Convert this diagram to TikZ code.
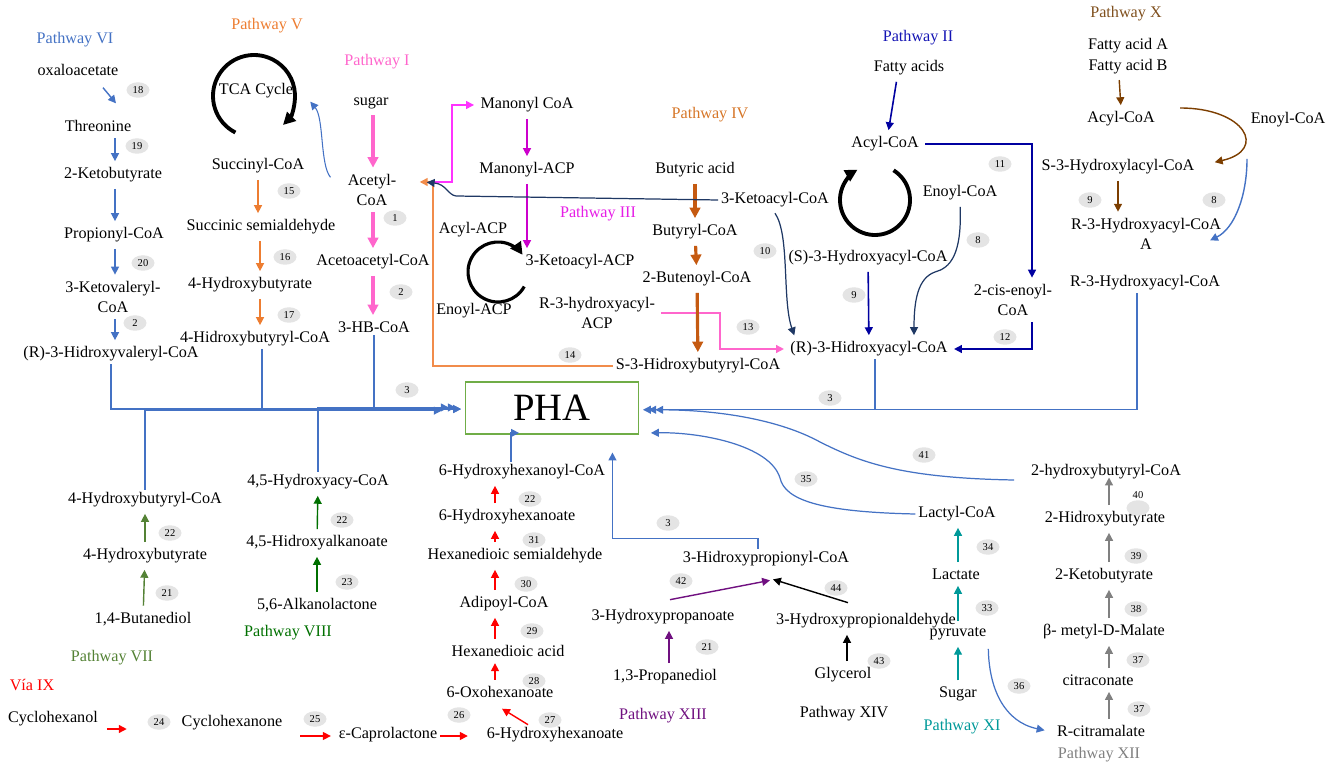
\documentclass[tikz,border=0pt]{standalone}
\usepackage{fontspec}
\setmainfont{Liberation Serif}
\usetikzlibrary{positioning}
\usetikzlibrary{arrows.meta}
\usetikzlibrary{shapes.geometric}
\usetikzlibrary{calc}
\definecolor{pwvi}{RGB}{68,114,196}
\definecolor{pwv}{RGB}{237,125,49}
\definecolor{pwi}{RGB}{255,102,204}
\definecolor{pwii}{RGB}{0,0,160}
\definecolor{pwiil}{RGB}{20,20,180}
\definecolor{pwnavy}{RGB}{31,56,100}
\definecolor{pwiii}{RGB}{204,0,204}
\definecolor{pwiiil}{RGB}{230,30,230}
\definecolor{pwmag}{RGB}{255,51,255}
\definecolor{pwiv}{RGB}{197,90,17}
\definecolor{pwivl}{RGB}{214,118,40}
\definecolor{pworange}{RGB}{241,140,75}
\definecolor{pwvii}{RGB}{84,130,53}
\definecolor{pwviii}{RGB}{0,112,0}
\definecolor{pwx}{RGB}{124,62,0}
\definecolor{pwxl}{RGB}{128,80,30}
\definecolor{pwxi}{RGB}{0,153,153}
\definecolor{pwxii}{RGB}{128,128,128}
\definecolor{pwxiii}{RGB}{112,16,128}
\definecolor{phagreen}{RGB}{112,173,71}
\definecolor{badgegray}{RGB}{228,228,228}
\tikzset{
    cmpd/.style = {inner sep=1.5pt, align=center, font=\fontsize{9.2}{11.6}\selectfont},
    pwy/.style = {inner sep=1pt, font=\fontsize{9.2}{11}\selectfont},
    badge/.style = {ellipse, fill=badgegray, minimum width=0.46cm, minimum height=0.31cm, inner sep=0pt, font=\fontsize{6}{7}\selectfont},
    phabox/.style = {rectangle, draw=phagreen, line width=1.1pt, minimum width=3.46cm, minimum height=1.04cm, font=\fontsize{22}{26}\selectfont},
    arrowtip/.style = {-{Triangle[length=4.5pt,width=4.5pt]}, shorten <=2pt, shorten >=2pt},
    bigtip/.style = {-{Triangle[length=6pt,width=6pt]}, shorten <=2pt, shorten >=2pt},
    noshort/.style = {shorten <=0pt, shorten >=0pt},
    cyclearw/.style = {-{Triangle[length=7pt,width=7pt]}, line width=2.2pt, black},
    edgevi/.style = {arrowtip, line width=0.8pt, pwvi},
    edgev/.style = {arrowtip, line width=0.8pt, pwv},
    edgei/.style = {bigtip, line width=1.8pt, pwi},
    edgeii/.style = {arrowtip, line width=0.9pt, pwii},
    edgenavy/.style = {arrowtip, line width=0.7pt, pwnavy},
    edgeiii/.style = {arrowtip, line width=0.8pt, pwiii},
    edgemag/.style = {arrowtip, line width=0.8pt, pwmag},
    edgepink/.style = {arrowtip, line width=0.8pt, pwi},
    edgeiv/.style = {bigtip, line width=1.8pt, pwiv},
    edgeorange/.style = {arrowtip, line width=0.8pt, pworange},
    edgevii/.style = {arrowtip, line width=0.8pt, pwvii},
    edgeviii/.style = {arrowtip, line width=0.8pt, pwviii},
    edgeix/.style = {arrowtip, line width=0.8pt, red},
    edgex/.style = {arrowtip, line width=0.8pt, pwx},
    edgexi/.style = {arrowtip, line width=0.8pt, pwxi},
    edgexii/.style = {arrowtip, line width=0.8pt, pwxii},
    edgexiii/.style = {arrowtip, line width=0.8pt, pwxiii},
    edgexiv/.style = {arrowtip, line width=0.8pt, black},
    edgepha/.style = {arrowtip, line width=0.7pt, pwvi, shorten <=0pt}
}

\begin{document}
\begin{tikzpicture}[x=0.02cm, y=-0.02cm]
\useasboundingbox (0,0) rectangle (1331,766);
% guides
\coordinate (colvi) at (115,0);
\coordinate (colv) at (260,0);
\coordinate (coli) at (373,0);
\coordinate (colix) at (495,0);
\coordinate (colxi) at (958,0);
\coordinate (colxii) at (1109,0);
\coordinate (jct) at (433,182);
\coordinate (tcac) at (254,96);
\coordinate (acpc) at (498,272);
\coordinate (fac) at (875,200);
%
% pathway labels
\node[pwy, pwvi] at (75,40) (lblvi) {Pathway VI};
\node[pwy, pwv] at (267,26) (lblv) {Pathway V};
\node[pwy, pwi] at (377,62) (lbli) {Pathway I};
\node[pwy, pwiil] at (918,38) (lblii) {Pathway II};
\node[pwy, pwiiil] at (598,214) (lbliii) {Pathway III};
\node[pwy, pwivl] at (710,115) (lbliv) {Pathway IV};
\node[pwy, pwxl] at (1126,14) (lblx) {Pathway X};
\node[pwy, pwvii] at (112,658) (lblvii) {Pathway VII};
\node[pwy, pwviii] at (288,633) (lblviii) {Pathway VIII};
\node[pwy, red] at (32,685) (lblix) {Vía IX};
\node[pwy, pwxiii] at (663,716) (lblxiii) {Pathway XIII};
\node[pwy] at (844,714) (lblxiv) {Pathway XIV};
\node[pwy, pwxi] at (962,727) (lblxi) {Pathway XI};
\node[pwy, pwxii] at (1099,755) (lblxii) {Pathway XII};
%
% Pathway VI
\node[cmpd] at (78,70) (oxa) {oxaloacetate};
\node[cmpd] at (98,126) (thr) {Threonine};
\node[cmpd] at (113,175) (kb) {2-Ketobutyrate};
\node[cmpd] at (114,235) (prop) {Propionyl-CoA};
\node[cmpd] at (113,297) (kv) {3-Ketovaleryl-\\CoA};
\node[cmpd] at (111,354) (rhv) {(R)-3-Hidroxyvaleryl-CoA};
% Pathway V
\node[cmpd] at (256,91) (tca) {TCA Cycle};
\node[cmpd] at (258,166) (succ) {Succinyl-CoA};
\node[cmpd] at (261,227) (ssa) {Succinic semialdehyde};
\node[cmpd] at (250,285) (hb4) {4-Hydroxybutyrate};
\node[cmpd] at (255,339) (hbc) {4-Hidroxybutyryl-CoA};
% Pathway I
\node[cmpd] at (371,103) (sugar) {sugar};
\node[cmpd] at (372,190) (acetyl) {Acetyl-\\CoA};
\node[cmpd] at (373,262) (acac) {Acetoacetyl-CoA};
\node[cmpd] at (374,327) (hbcoa) {3-HB-CoA};
% Pathway III
\node[cmpd] at (527,105) (manonyl) {Manonyl CoA};
\node[cmpd] at (527,170) (macp) {Manonyl-ACP};
\node[cmpd] at (580,262) (kacp) {3-Ketoacyl-ACP};
\node[cmpd] at (473,230) (acylacp) {Acyl-ACP};
\node[cmpd] at (474,311) (enoylacp) {Enoyl-ACP};
\node[cmpd] at (597,313) (r3acp) {R-3-hydroxyacyl-\\ACP};
% Pathway IV
\node[cmpd] at (695,170) (butyric) {Butyric acid};
\node[cmpd] at (695,232) (butyryl) {Butyryl-CoA};
\node[cmpd] at (697,279) (butenoyl) {2-Butenoyl-CoA};
\node[cmpd] at (698,366) (s3hb) {S-3-Hidroxybutyryl-CoA};
% Pathway II
\node[cmpd] at (909,68) (fa) {Fatty acids};
\node[cmpd] at (885,144) (acyl2) {Acyl-CoA};
\node[cmpd] at (960,193) (enoyl2) {Enoyl-CoA};
\node[cmpd] at (775,200) (kacoa) {3-Ketoacyl-CoA};
\node[cmpd] at (868,258) (s3ha) {(S)-3-Hydroxyacyl-CoA};
\node[cmpd] at (869,349) (r3ha) {(R)-3-Hidroxyacyl-CoA};
\node[cmpd] at (1013,300) (cis) {2-cis-enoyl-\\CoA};
% Pathway X
\node[cmpd] at (1128,56) (fab) {Fatty acid A\\Fatty acid B};
\node[cmpd] at (1121,119) (acyl10) {Acyl-CoA};
\node[cmpd] at (1288,120) (enoyl10) {Enoyl-CoA};
\node[cmpd] at (1118,167) (s3hx) {S-3-Hydroxylacyl-CoA};
\node[cmpd] at (1146,234) (r3haA) {R-3-Hydroxyacyl-CoA\\A};
\node[cmpd] at (1145,283) (r3hx) {R-3-Hydroxyacyl-CoA};
% PHA
\node[phabox] at (552,408) (pha) {PHA};
% Pathway VII
\node[cmpd] at (145,500) (hbcoa7) {4-Hydroxybutyryl-CoA};
\node[cmpd] at (145,556) (hb7) {4-Hydroxybutyrate};
\node[cmpd] at (143,619) (bdo) {1,4-Butanediol};
% Pathway VIII
\node[cmpd] at (318,482) (hacoa) {4,5-Hydroxyacy-CoA};
\node[cmpd] at (317,543) (hak) {4,5-Hidroxyalkanoate};
\node[cmpd] at (317,605) (alk) {5,6-Alkanolactone};
% Via IX
\node[cmpd] at (53,719) (chol) {Cyclohexanol};
\node[cmpd] at (232,723) (chon) {Cyclohexanone};
\node[cmpd] at (388,735) (capro) {ε-Caprolactone};
\node[cmpd] at (555,735) (hhx) {6-Hydroxyhexanoate};
\node[cmpd] at (500,692) (oxo) {6-Oxohexanoate};
\node[cmpd] at (508,651) (hda) {Hexanedioic acid};
\node[cmpd] at (504,604) (adip) {Adipoyl-CoA};
\node[cmpd] at (515,556) (hsa) {Hexanedioic semialdehyde};
\node[cmpd] at (507,517) (hh) {6-Hydroxyhexanoate};
\node[cmpd] at (522,472) (hhcoa) {6-Hydroxyhexanoyl-CoA};
% Pathway XIII and XIV
\node[cmpd] at (766,559) (hpcoa) {3-Hidroxypropionyl-CoA};
\node[cmpd] at (663,617) (hpa) {3-Hydroxypropanoate};
\node[cmpd] at (665,677) (pdo) {1,3-Propanediol};
\node[cmpd] at (866,621) (hpald) {3-Hydroxypropionaldehyde};
\node[cmpd] at (843,675) (gly) {Glycerol};
% Pathway XI
\node[cmpd] at (957,514) (lactyl) {Lactyl-CoA};
\node[cmpd] at (956,574) (lact) {Lactate};
\node[cmpd] at (958,634) (pyr) {pyruvate};
\node[cmpd] at (958,694) (sugar11) {Sugar};
% Pathway XII
\node[cmpd] at (1106,472) (hbucoa) {2-hydroxybutyryl-CoA};
\node[cmpd] at (1105,519) (hbu) {2-Hidroxybutyrate};
\node[cmpd] at (1104,576) (kb12) {2-Ketobutyrate};
\node[cmpd] at (1104,632) (bmm) {β- metyl-D-Malate};
\node[cmpd] at (1098,680) (citc) {citraconate};
\node[cmpd] at (1101,731) (citm) {R-citramalate};
%
% enzyme numbers
\node[badge] at (138,90) (b18) {18};
\node[badge] at (137,146) (b19) {19};
\node[badge] at (143,263) (b20) {20};
\node[badge] at (135,323) (b2a) {2};
\node[badge] at (289,191) (b15) {15};
\node[badge] at (285,257) (b16) {16};
\node[badge] at (289,315) (b17) {17};
\node[badge] at (395,218) (b1) {1};
\node[badge] at (401,292) (b2b) {2};
\node[badge] at (407,390) (b3a) {3};
\node[badge] at (570,355) (b14) {14};
\node[badge] at (748,327) (b13) {13};
\node[badge] at (765,251) (b10) {10};
\node[badge] at (1000,164) (b11) {11};
\node[badge] at (978,240) (b8a) {8};
\node[badge] at (854,295) (b9a) {9};
\node[badge] at (1005,337) (b12) {12};
\node[badge] at (830,398) (b3b) {3};
\node[badge] at (1090,200) (b9b) {9};
\node[badge] at (1214,200) (b8b) {8};
\node[badge] at (170,533) (b22a) {22};
\node[badge] at (167,593) (b21a) {21};
\node[badge] at (342,520) (b22b) {22};
\node[badge] at (347,582) (b23) {23};
\node[badge] at (159,722) (b24) {24};
\node[badge] at (315,719) (b25) {25};
\node[badge] at (459,715) (b26) {26};
\node[badge] at (550,720) (b27) {27};
\node[badge] at (534,681) (b28) {28};
\node[badge] at (532,631) (b29) {29};
\node[badge] at (526,584) (b30) {30};
\node[badge] at (534,540) (b31) {31};
\node[badge] at (530,499) (b22c) {22};
\node[badge] at (668,523) (b3c) {3};
\node[badge] at (681,581) (b42) {42};
\node[badge] at (707,647) (b21b) {21};
\node[badge] at (836,588) (b44) {44};
\node[badge] at (879,661) (b43) {43};
\node[badge] at (924,455) (b41) {41};
\node[badge] at (806,479) (b35) {35};
\node[badge] at (988,547) (b34) {34};
\node[badge] at (987,608) (b33) {33};
\node[badge] at (1019,686) (b36) {36};
\node[badge] at (1138,508) (b40) {};
\node[font=\fontsize{6}{7}\selectfont, inner sep=0pt] at (1138,495) (t40) {40};
\node[badge] at (1136,556) (b39) {39};
\node[badge] at (1136,609) (b38) {38};
\node[badge] at (1138,660) (b37a) {37};
\node[badge] at (1139,709) (b37b) {37};
%
% cycles
\draw[cyclearw] ($(tcac)+(117:41)$) arc[start angle=117, end angle=405, radius=41];
\draw[cyclearw, line width=1.8pt] ($(acpc)+(29:30)$) arc[start angle=29, end angle=325, radius=30];
\draw[cyclearw] ($(fac)+(302:35)$) arc[start angle=302, end angle=600, radius=35];
%
% Pathway VI
\draw[edgevi, noshort] ($(oxa.south)+(25,9)$) -- ($(thr.north)+(18,-14)$);
\draw[edgevi] (colvi |- thr.south) -- (colvi |- kb.north);
\draw[edgevi] (colvi |- kb.south) -- (colvi |- prop.north);
\draw[edgevi] (colvi |- prop.south) -- (colvi |- kv.north);
\draw[edgevi] (colvi |- kv.south) -- (colvi |- rhv.north);
% Pathway V
\draw[edgev] (succ.south) -- (succ.south |- ssa.north);
\draw[edgev] (colv |- ssa.south) -- (colv |- hb4.north);
\draw[edgev] (colv |- hb4.south) -- (colv |- hbc.north);
\draw[edgevi, line width=0.6pt] ($(acetyl.west)+(-12,-10)$) .. controls (320,165) and (324,118) .. ($(tca.east)+(12,8)$);
% Pathway I
\draw[edgei] (coli |- sugar.south) -- (coli |- acetyl.north);
\draw[edgei] (coli |- acetyl.south) -- (coli |- acac.north);
\draw[edgei] (coli |- acac.south) -- (coli |- hbcoa.north);
% Pathway III
\draw[edgemag, shorten <=0pt] (jct) -- ++(19,0) |- (manonyl.west);
\draw[edgeiii] (manonyl) -- (macp);
\draw[edgeiii] (macp.south) -- (macp.south |- kacp.north);
\draw[edgepink] (r3acp.east) -- ++(62,0) |- (r3ha.west);
% Pathway IV
\draw[edgeiv] (butyric) -- (butyryl);
\draw[edgeiv] (butyryl) -- (butenoyl);
\draw[edgeiv] (butenoyl) -- (s3hb);
\draw[edgeorange, shorten <=0pt] (s3hb.west) -| (jct) -- ($(acetyl.east |- jct)+(17,0)$);
\draw[edgenavy, shorten <=0pt] (kacoa.west) -- (456,196) .. controls (448,195) and (446,184) .. ($(acetyl.east |- jct)+(24,0)$);
% Pathway II
\draw[edgeii] ($(fa.south)+(-12,0)$) -- ($(acyl2.north)+(3,0)$);
\draw[edgeii] (acyl2.east) -| ($(cis.north)+(19,0)$);
\draw[edgeii] ($(cis.south)+(19,0)$) |- (r3ha.east);
\draw[edgeii] (s3ha) -- (r3ha);
\draw[edgenavy] (enoyl2.south) .. controls (962,255) and (950,268) .. (935,272) .. controls (918,278) and (914,300) .. ($(r3ha.north)+(45,0)$);
\draw[edgenavy] ($(kacoa.south)+(-2,0)$) .. controls (790,235) and (782,300) .. ($(r3ha.north west)+(8,0)$);
% Pathway X
\draw[edgex] ($(fab.south)+(-9,0)$) -- (acyl10.north);
\draw[edgex] ($(acyl10.east)+(19,-11)$) .. controls (1245,108) and (1268,150) .. ($(s3hx.east)+(14,-4)$);
\draw[edgex] (s3hx.south) -- (s3hx.south |- r3haA.north);
\draw[edgevi] ($(enoyl10.south)+(-41,25)$) .. controls (1247,195) and (1235,228) .. ($(r3haA.east)+(-17,8)$);
%
% into PHA
\draw[edgepha] (rhv.south) |- ([yshift=-0.6pt]pha.west);
\draw[edgepha] ($(hbc.south)+(7,0)$) |- ([yshift=-0.6pt]pha.west);
\draw[edgepha, shorten >=5pt] (hbcoa.south) |- ([yshift=0.3pt]pha.west);
\draw[edgepha, shorten >=9pt] (hacoa.north) |- ([yshift=0.3pt]pha.west);
\draw[edgepha, shorten >=13pt] (hbcoa7.north) |- ([yshift=-1.5pt]pha.west);
\draw[edgepha] ($(r3ha.south)+(6,0)$) |- ([yshift=-1pt]pha.east);
\draw[edgepha, shorten >=5pt] ($(r3hx.south)+(-8,0)$) |- ([yshift=-1pt]pha.east);
\draw[edgepha, shorten >=9pt] ($(hbucoa.west)+(-14,8)$) .. controls (900,478) and (860,462) .. (820,442) .. controls (780,420) and (720,410) .. ([yshift=-1pt]pha.east);
\draw[edgepha] (lactyl.west) .. controls (820,512) and (785,500) .. (780,478) .. controls (770,445) and (700,432) .. ($(pha.south east)+(8,-2)$);
\draw[edgepha] ($(hhcoa.north)+(-11,0)$) |- ($(pha.south west)+(58,-2)$);
\draw[edgepha] ($(hpcoa.north)+(-8,0)$) -- ++(0,-10) -| ($(pha.south east)+(-27,14)$);
%
% Pathway VII and VIII
\draw[edgevii] (hb7) -- (hbcoa7);
\draw[edgevii] (bdo) -- (hb7);
\draw[edgeviii] (hak) -- (hacoa);
\draw[edgeviii] (alk) -- (hak);
% Via IX
\draw[edgeix, noshort] ($(chol.east)+(6,10)$) -- ($(chon.west)+(-52,6)$);
\draw[edgeix, noshort] ($(chon.east)+(15,13)$) -- ($(capro.west)+(-5,1)$);
\draw[edgeix, noshort] ($(capro.east)+(0,1)$) -- ($(hhx.west)+(-16,1)$);
\draw[edgeix, noshort] ($(hhx.north)+(-27,0)$) -- ($(oxo.south)+(2,8)$);
\draw[edgeix] (colix |- oxo.north) -- (colix |- hda.south);
\draw[edgeix] (colix |- hda.north) -- (colix |- adip.south);
\draw[edgeix] (colix |- adip.north) -- (colix |- hsa.south);
\draw[edgeix] (colix |- hsa.north) -- (colix |- hh.south);
\draw[edgeix] (colix |- hh.north) -- (colix |- hhcoa.south);
% Pathway XIII and XIV
\draw[edgexiii, noshort] ($(hpa.north)+(7,-7)$) -- ($(hpcoa.south)+(4,11)$);
\draw[edgexiii] ($(pdo.north)+(4,0)$) -- ($(pdo.north |- hpa.south)+(4,0)$);
\draw[edgexiv, noshort] ($(hpald.north)+(-18,-8)$) -- ($(hpcoa.south)+(7,10)$);
\draw[edgexiv] ($(gly.north)+(4,0)$) -- ($(gly.north |- hpald.south)+(4,0)$);
% Pathway XI
\draw[edgexi] (colxi |- sugar11.north) -- (colxi |- pyr.south);
\draw[edgexi] (colxi |- pyr.north) -- (colxi |- lact.south);
\draw[edgexi] (colxi |- lact.north) -- (colxi |- lactyl.south);
\draw[edgevi, line width=0.7pt] ($(pyr.south east)+(-1,2)$) .. controls (989,690) and (1005,722) .. ($(citm.west)+(-6,0)$);
% Pathway XII
\draw[edgexii] (colxii |- citm.north) -- (colxii |- citc.south);
\draw[edgexii] (colxii |- citc.north) -- (colxii |- bmm.south);
\draw[edgexii] (colxii |- bmm.north) -- (colxii |- kb12.south);
\draw[edgexii] (colxii |- kb12.north) -- (colxii |- hbu.south);
\draw[edgexii] (colxii |- hbu.north) -- ($(colxii |- hbucoa.center)+(0,2)$);
\end{tikzpicture}
\end{document}
